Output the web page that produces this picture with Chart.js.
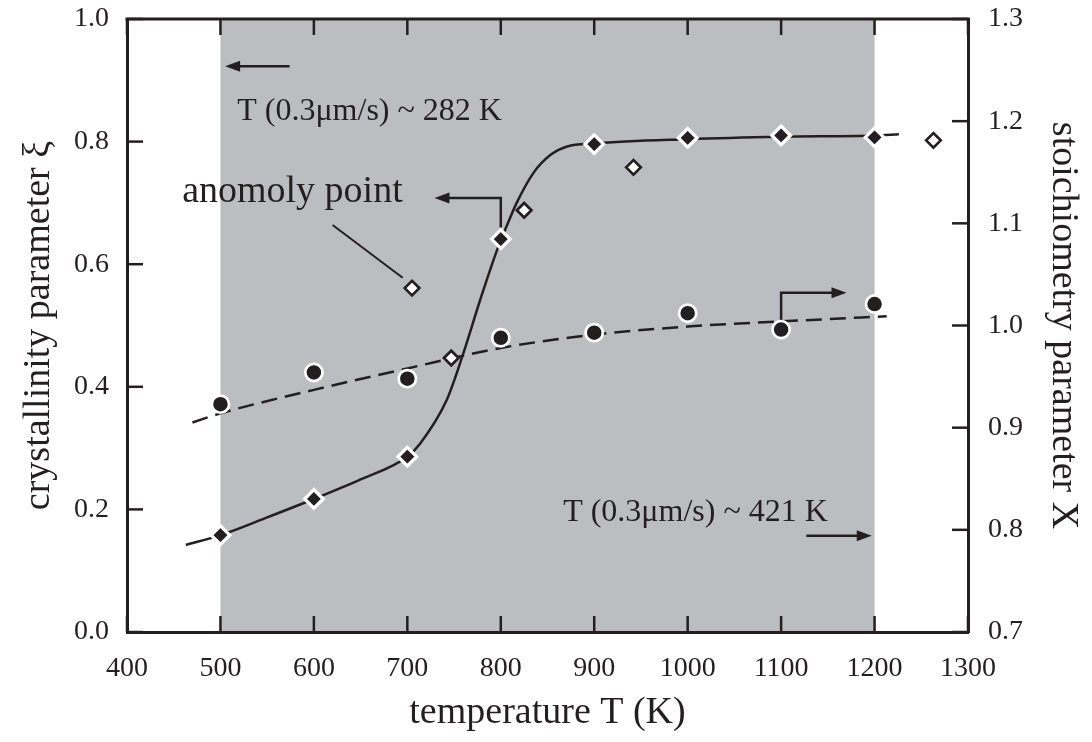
<!DOCTYPE html>
<html>
<head>
<meta charset="utf-8">
<script src="https://cdn.jsdelivr.net/npm/chart.js@4.4.1/dist/chart.umd.min.js"></script>
<style>
  html, body { margin: 0; padding: 0; background: #fff; }
  #wrap { width: 1092px; height: 742px; }
</style>
</head>
<body>
<div id="wrap"><canvas id="myChart" width="1092" height="742"></canvas></div>
<script>
// measured points, crystallinity (left axis)
const tempFilled = [500, 600, 700, 800, 900, 1000, 1100, 1200];
const xiFilled = [0.158, 0.217, 0.286, 0.641, 0.796, 0.806, 0.810, 0.807];
const tempOpen = [705, 747, 825, 942, 1263];
const xiOpen = [0.561, 0.447, 0.688, 0.758, 0.802];
// stoichiometry (right axis)
const tempCircle = [500, 600, 700, 800, 900, 1000, 1100, 1200];
const stoichCircle = [0.923, 0.954, 0.948, 0.988, 0.993, 1.012, 0.996, 1.021];
// guide curves
const tempFitXi = [463, 500, 550, 600, 650, 700, 714, 742, 760, 778, 796, 806, 817, 835, 853, 871, 900, 1000, 1100, 1200, 1226];
const fitXi = [0.142, 0.158, 0.187, 0.217, 0.249, 0.286, 0.308, 0.378, 0.455, 0.542, 0.623, 0.661, 0.700, 0.749, 0.778, 0.792, 0.797, 0.804, 0.808, 0.810, 0.812];
const tempFitX = [470, 500, 600, 700, 800, 900, 1000, 1100, 1213];
const fitX = [0.905, 0.914, 0.937, 0.958, 0.978, 0.991, 0.999, 1.004, 1.009];
// axes
const tempTicks = [400, 1300, 100];
const xiTicks = [0, 1, 0.2];
const stoichTicks = [0.7, 1.3, 0.1];
const shadeRange = [500, 1200];

const ink = '#231f20';
const serif = '"Liberation Serif", "Times New Roman", serif';

const pts = (xs, ys) => xs.map((x, i) => ({ x: x, y: ys[i] }));

function arrowHead(ctx, x, y, dir) {
  // dir: 1 right, -1 left
  ctx.beginPath();
  ctx.moveTo(x, y);
  ctx.lineTo(x - dir * 15, y - 5.5);
  ctx.lineTo(x - dir * 15, y + 5.5);
  ctx.closePath();
  ctx.fill();
}

const shadePlugin = {
  id: 'shade',
  beforeDraw(chart) {
    const { ctx, chartArea, scales } = chart;
    const a = scales.x.getPixelForValue(shadeRange[0]);
    const b = scales.x.getPixelForValue(shadeRange[1]);
    ctx.save();
    ctx.fillStyle = '#bcbdc1';
    ctx.fillRect(a, chartArea.top, b - a, chartArea.bottom - chartArea.top);
    ctx.restore();
  },
  beforeDatasetsDraw(chart) {
    const { ctx, chartArea, scales } = chart;
    const x = scales.x, y = scales.y, y1 = scales.y1;
    ctx.save();
    ctx.strokeStyle = ink;
    ctx.fillStyle = ink;
    // top frame
    ctx.lineWidth = 3;
    ctx.beginPath();
    ctx.moveTo(chartArea.left - 1.5, chartArea.top);
    ctx.lineTo(chartArea.right + 1.5, chartArea.top);
    ctx.stroke();
    // inward ticks
    ctx.lineWidth = 2.5;
    const tl = 16;
    x.ticks.forEach(t => {
      const p = x.getPixelForValue(t.value);
      ctx.beginPath();
      ctx.moveTo(p, chartArea.bottom); ctx.lineTo(p, chartArea.bottom - tl);
      ctx.moveTo(p, chartArea.top); ctx.lineTo(p, chartArea.top + tl);
      ctx.stroke();
    });
    y.ticks.forEach(t => {
      const p = y.getPixelForValue(t.value);
      ctx.beginPath();
      ctx.moveTo(chartArea.left, p); ctx.lineTo(chartArea.left + tl, p);
      ctx.stroke();
    });
    y1.ticks.forEach(t => {
      const p = y1.getPixelForValue(t.value);
      ctx.beginPath();
      ctx.moveTo(chartArea.right, p); ctx.lineTo(chartArea.right - tl, p);
      ctx.stroke();
    });

    // annotations
    const px = v => x.getPixelForValue(v);
    const py = v => y.getPixelForValue(v);
    const py1 = v => y1.getPixelForValue(v);
    ctx.lineWidth = 2.5;

    // top-left arrow
    ctx.beginPath();
    ctx.moveTo(px(574), py(0.923)); ctx.lineTo(px(512), py(0.923));
    ctx.stroke();
    arrowHead(ctx, px(505), py(0.923), -1);

    // bottom-right arrow
    ctx.beginPath();
    ctx.moveTo(px(1127), py(0.157)); ctx.lineTo(px(1190), py(0.157));
    ctx.stroke();
    arrowHead(ctx, px(1197), py(0.157), 1);

    // arrow from the 800 K point to the left axis
    ctx.beginPath();
    ctx.moveTo(px(800), py(0.66)); ctx.lineTo(px(800), py(0.708));
    ctx.lineTo(px(737), py(0.708));
    ctx.stroke();
    arrowHead(ctx, px(729), py(0.708), -1);

    // arrow from the 1100 K circle to the right axis
    ctx.beginPath();
    ctx.moveTo(px(1100), py1(1.005)); ctx.lineTo(px(1100), py1(1.032));
    ctx.lineTo(px(1163), py1(1.032));
    ctx.stroke();
    arrowHead(ctx, px(1170), py1(1.032), 1);

    // anomaly leader
    ctx.lineWidth = 2;
    ctx.beginPath();
    ctx.moveTo(px(620), py(0.664)); ctx.lineTo(px(695), py(0.578));
    ctx.stroke();

    ctx.textBaseline = 'alphabetic';
    ctx.font = '32px ' + serif;
    ctx.textAlign = 'left';
    ctx.fillText('T (0.3\u03bcm/s) ~ 282 K', px(518), py(0.835));
    ctx.textAlign = 'right';
    ctx.fillText('T (0.3\u03bcm/s) ~ 421 K', px(1150), py(0.1816));
    ctx.font = '38px ' + serif;
    ctx.textAlign = 'left';
    ctx.fillText('anomoly point', px(459), py(0.702));
    ctx.restore();
  }
};

const noPad = s => { s.paddingTop = 0; s.paddingBottom = 0; s.paddingLeft = 0; s.paddingRight = 0; };

const ctx = document.getElementById('myChart').getContext('2d');
const myChart = new Chart(ctx, {
  type: 'scatter',
  data: {
    datasets: [
      {
        label: 'fit xi',
        data: pts(tempFitXi, fitXi),
        showLine: true,
        borderColor: ink,
        borderWidth: 2.5,
        pointRadius: 0,
        cubicInterpolationMode: 'monotone',
        yAxisID: 'y',
        order: 5
      },
      {
        label: 'fit X',
        data: pts(tempFitX, fitX),
        showLine: true,
        borderColor: ink,
        borderWidth: 2.5,
        borderDash: [16, 8],
        pointRadius: 0,
        cubicInterpolationMode: 'monotone',
        yAxisID: 'y1',
        order: 5
      },
      {
        label: 'xi',
        data: pts(tempFilled, xiFilled),
        pointStyle: 'rectRot',
        pointRadius: 9.3,
        pointBackgroundColor: ink,
        pointBorderColor: '#fff',
        pointBorderWidth: 3.3,
        yAxisID: 'y',
        order: 1
      },
      {
        label: 'xi open',
        data: pts(tempOpen, xiOpen),
        pointStyle: 'rectRot',
        pointRadius: 7.3,
        pointBackgroundColor: '#fff',
        pointBorderColor: ink,
        pointBorderWidth: 2.7,
        yAxisID: 'y',
        order: 1
      },
      {
        label: 'X',
        data: pts(tempCircle, stoichCircle),
        pointStyle: 'circle',
        pointRadius: 8.6,
        pointBackgroundColor: ink,
        pointBorderColor: '#fff',
        pointBorderWidth: 2.7,
        yAxisID: 'y1',
        order: 1
      }
    ]
  },
  options: {
    responsive: false,
    animation: false,
    layout: { padding: { top: 19, left: 0, right: 0, bottom: 0 } },
    plugins: { legend: { display: false }, tooltip: { enabled: false } },
    scales: {
      x: {
        type: 'linear',
        min: tempTicks[0], max: tempTicks[1],
        ticks: { stepSize: tempTicks[2], color: ink, font: { family: serif, size: 28 }, padding: 20, callback: v => String(v) },
        grid: { display: false, drawTicks: false },
        border: { display: true, color: ink, width: 3 },
        title: { display: true, text: 'temperature T (K)', color: ink, font: { family: serif, size: 38 }, padding: { bottom: 6 } },
        afterFit: s => { s.height = 110; noPad(s); }
      },
      y: {
        position: 'left',
        min: xiTicks[0], max: xiTicks[1],
        ticks: { stepSize: xiTicks[2], color: ink, font: { family: serif, size: 28 }, padding: 18, callback: v => v.toFixed(1) },
        grid: { display: false, drawTicks: false },
        border: { display: true, color: ink, width: 3 },
        title: { display: true, text: 'crystallinity parameter \u03be', color: ink, font: { family: serif, size: 38 }, padding: { top: 16 } },
        afterFit: s => { s.width = 127; noPad(s); }
      },
      y1: {
        position: 'right',
        min: stoichTicks[0], max: stoichTicks[1],
        ticks: { stepSize: stoichTicks[2], color: ink, font: { family: serif, size: 28 }, padding: 20, callback: v => v.toFixed(1) },
        grid: { display: false, drawTicks: false },
        border: { display: true, color: ink, width: 3 },
        title: { display: true, text: 'stoichiometry parameter X', color: ink, font: { family: serif, size: 38 }, padding: { top: 6 } },
        afterFit: s => { s.width = 124; noPad(s); }
      }
    }
  },
  plugins: [shadePlugin]
});
</script>
</body>
</html>
